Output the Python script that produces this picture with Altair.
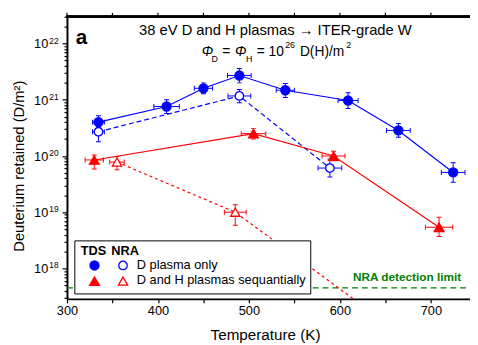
import altair as alt
import pandas as pd

FONT = "Liberation Sans"
BLUE = "#0000ff"
RED = "#ff0000"
GREEN = "#008000"

# ---------------- data ----------------
# TDS, D plasma only (filled circles, solid line)
tds_d_T = [334.6, 409.5, 450.0, 489.5, 540.0, 609.0, 664.3, 724.5]
tds_d_Terr = [6.5, 14.0, 10.0, 13.0, 10.0, 11.0, 13.0, 13.0]
tds_d_val = [4.0e20, 7.6e20, 1.6e21, 2.7e21, 1.48e21, 9.7e20, 2.85e20, 5.1e19]
tds_d_lo = [3.1e20, 5.7e20, 1.28e21, 2.0e21, 1.1e21, 7.0e20, 2.15e20, 3.4e19]
tds_d_hi = [5.2e20, 1.0e21, 2.0e21, 3.6e21, 1.95e21, 1.34e21, 3.8e20, 7.6e19]

# NRA, D plasma only (open circles, dashed line)
nra_d_T = [334.6, 489.5, 589.0]
nra_d_Terr = [6.5, 12.5, 13.0]
nra_d_val = [2.7e20, 1.17e21, 6.1e19]
nra_d_lo = [1.8e20, 8.9e20, 4.25e19]
nra_d_hi = [3.3e20, 1.53e21, 8.8e19]

# TDS, D and H plasmas sequentially (filled triangles, solid line)
tds_dh_T = [330.0, 505.0, 593.0, 709.0]
tds_dh_Terr = [10.0, 13.5, 12.6, 15.0]
tds_dh_val = [8.5e19, 2.5e20, 1.0e20, 5.4e18]
tds_dh_lo = [5.85e19, 2.0e20, 8.2e19, 3.7e18]
tds_dh_hi = [1.04e20, 3.1e20, 1.22e20, 8.1e18]

# NRA, D and H plasmas sequentially (open triangles, dashed line); last point below view
nra_dh_T = [355.0, 485.0, 650.0]
nra_dh_Terr = [8.0, 12.0, 12.0]
nra_dh_val = [7.8e19, 1.0e19, 1.1e17]
nra_dh_lo = [5.7e19, 5.85e18, 0.8e17]
nra_dh_hi = [9.8e19, 1.36e19, 1.4e17]

detection_limit = [4.5e17]

x_ticks = [300, 350, 400, 450, 500, 550, 600, 650, 700]
y_exponents = [18, 19, 20, 21, 22]
y_mantissas = [1, 2, 3, 4, 5, 6, 7, 8, 9]

X_DOMAIN = [300, 743]
Y_DOMAIN = [2.87e17, 3.0e22]
W, H = 410, 287

x_scale = alt.Scale(domain=X_DOMAIN, nice=False, zero=False)
y_scale = alt.Scale(type="log", domain=Y_DOMAIN, nice=False)

y_tick_values = [m * 10.0 ** e for e in range(17, 23) for m in y_mantissas
                 if Y_DOMAIN[0] <= m * 10.0 ** e <= Y_DOMAIN[1]]

x_axis = alt.Axis(
    values=x_ticks, labelExpr="datum.value % 100 == 0 ? datum.label : ''",
    tickSize=4, tickWidth=1.2, tickColor="black", domainWidth=2, domainColor="black",
    labelFontSize=13, labelFont=FONT, labelColor="black", labelPadding=2,
    grid=False, title=None, labelFlush=False,
)
y_axis = alt.Axis(
    values=y_tick_values, labels=False,
    tickSize={"condition": {"test": "abs(log(datum.value)/LN10 - round(log(datum.value)/LN10)) < 0.001",
                            "value": 5}, "value": 3},
    tickWidth=1.2, tickColor="black", domainWidth=2, domainColor="black",
    grid=False, title=None,
)


def frame(T, Terr, v, lo, hi):
    return pd.DataFrame({
        "T": T,
        "Tlo": [t - e for t, e in zip(T, Terr)],
        "Thi": [t + e for t, e in zip(T, Terr)],
        "v": v, "lo": lo, "hi": hi,
    })


def X(field):
    return alt.X(f"{field}:Q", scale=x_scale, axis=x_axis)


def Y(field):
    return alt.Y(f"{field}:Q", scale=y_scale, axis=y_axis)


series = [
    (frame(tds_d_T, tds_d_Terr, tds_d_val, tds_d_lo, tds_d_hi), BLUE, None, "circle", True, 85),
    (frame(nra_d_T, nra_d_Terr, nra_d_val, nra_d_lo, nra_d_hi), BLUE, [5, 3], "circle", False, 75),
    (frame(tds_dh_T, tds_dh_Terr, tds_dh_val, tds_dh_lo, tds_dh_hi), RED, None, "triangle-up", True, 100),
    (frame(nra_dh_T, nra_dh_Terr, nra_dh_val, nra_dh_lo, nra_dh_hi), RED, [3, 3], "triangle-up", False, 90),
]

layers = []

# detection limit
det = pd.DataFrame({"v": detection_limit})
layers.append(
    alt.Chart(det).mark_rule(color=GREEN, strokeWidth=1.3, strokeDash=[6, 4]).encode(
        y=Y("v"), x=alt.value(0), x2=alt.value(W))
)

line_layers, err_layers, pt_layers = [], [], []
for df, c, dash, shape, filled, size in series:
    lkw = dict(color=c, strokeWidth=1.2, clip=True)
    if dash:
        lkw["strokeDash"] = dash
    line_layers.append(alt.Chart(df).mark_line(**lkw).encode(x=X("T"), y=Y("v")))
    base = alt.Chart(df)
    err_layers += [
        base.mark_rule(color=c, strokeWidth=1, clip=True).encode(x=X("Tlo"), x2="Thi:Q", y=Y("v")),
        base.mark_rule(color=c, strokeWidth=1, clip=True).encode(x=X("T"), y=Y("lo"), y2="hi:Q"),
        base.mark_tick(orient="vertical", size=5, thickness=1, color=c, opacity=1, clip=True).encode(x=X("Tlo"), y=Y("v")),
        base.mark_tick(orient="vertical", size=5, thickness=1, color=c, opacity=1, clip=True).encode(x=X("Thi"), y=Y("v")),
        base.mark_tick(orient="horizontal", size=5, thickness=1, color=c, opacity=1, clip=True).encode(x=X("T"), y=Y("lo")),
        base.mark_tick(orient="horizontal", size=5, thickness=1, color=c, opacity=1, clip=True).encode(x=X("T"), y=Y("hi")),
    ]
    pt_layers.append(
        base.mark_point(shape=shape, size=size, filled=True, fill=c if filled else "white",
                        stroke=c, strokeWidth=1.3, opacity=1, clip=True).encode(x=X("T"), y=Y("v"))
    )

layers += line_layers + err_layers + pt_layers

# top frame line and its ticks
top_df = pd.DataFrame({"T": x_ticks})
layers.append(
    alt.Chart(top_df).mark_rule(color="black", strokeWidth=2).encode(
        x=alt.value(-1), x2=alt.value(W), y=alt.value(0))
)
layers.append(
    alt.Chart(top_df).mark_rule(color="black", strokeWidth=1.2).encode(
        x=X("T"), y=alt.value(0), y2=alt.value(-4))
)

# y tick labels "10^n"
ylab = pd.DataFrame({"v": [10.0 ** e for e in y_exponents], "base": ["10"] * len(y_exponents),
                     "exp": [str(e) for e in y_exponents]})
layers.append(
    alt.Chart(ylab).mark_text(font=FONT, fontSize=13, align="right", baseline="alphabetic", dy=5,
                              color="black").encode(y=Y("v"), x=alt.value(-19), text="base:N")
)
layers.append(
    alt.Chart(ylab).mark_text(font=FONT, fontSize=8.5, align="left", baseline="alphabetic", dy=0,
                              color="black").encode(y=Y("v"), x=alt.value(-18), text="exp:N")
)


def txt(s, x, y, size=13, weight="normal", style="normal", align="left", color="black", angle=0,
        baseline="alphabetic"):
    kw = dict(font=FONT, fontSize=size, fontWeight=weight, fontStyle=style, align=align,
              baseline=baseline, color=color)
    if angle:
        kw["angle"] = angle
    return alt.Chart(pd.DataFrame({"t": [s]})).mark_text(**kw).encode(
        text="t:N", x=alt.value(x), y=alt.value(y))


# axis titles
layers.append(txt("Temperature (K)", 202, 329, size=15.5, align="center"))
layers.append(txt("Deuterium retained (D/m²)", -49, 152, size=15, align="center", angle=270,
                  baseline="middle"))

# panel label and header
layers.append(txt("a", 9, 28, size=21, weight="bold"))
layers.append(txt("38 eV D and H plasmas \u2192 ITER-grade W", 212, 19, size=15, align="center"))
header2 = [
    ("\u03a6", 137, 40, 14, "italic"),
    ("D", 147, 46, 9, "normal"),
    ("=", 158, 40, 14, "normal"),
    ("\u03a6", 171, 40, 14, "italic"),
    ("H", 182, 46, 9, "normal"),
    ("= 10", 193, 40, 14, "normal"),
    ("26", 222, 32, 9, "normal"),
    ("D(H)/m", 237, 40, 14, "normal"),
    ("2", 284, 32, 9, "normal"),
]
for s, x, y, size, style in header2:
    layers.append(txt(s, x, y, size=size, style=style))

# NRA detection limit label
layers.append(txt("NRA detection limit", 401, 269, size=12, weight="bold", align="right", color=GREEN))

# legend
layers.append(
    alt.Chart(pd.DataFrame({"a": [0]})).mark_rect(fill="white", stroke="black", strokeWidth=1).encode(
        x=alt.value(8), x2=alt.value(248), y=alt.value(228), y2=alt.value(282))
)
layers.append(txt("TDS", 14, 242, size=13, weight="bold"))
layers.append(txt("NRA", 45, 242, size=13, weight="bold"))
legend_items = [
    ("circle", BLUE, True, 85, 28, 253),
    ("circle", BLUE, False, 75, 57, 253),
    ("triangle-up", RED, True, 100, 28, 269),
    ("triangle-up", RED, False, 90, 57, 269),
]
for shape, c, filled, size, x, y in legend_items:
    layers.append(
        alt.Chart(pd.DataFrame({"a": [0]})).mark_point(
            shape=shape, size=size, filled=True, fill=c if filled else "white", stroke=c,
            strokeWidth=1.3, opacity=1).encode(x=alt.value(x), y=alt.value(y))
    )
layers.append(txt("D plasma only", 71, 257, size=13))
layers.append(txt("D and H plasmas sequantially", 71, 272, size=13))

chart = alt.layer(*layers).properties(
    width=W, height=H,
    padding={"left": 60, "top": 6, "right": 0, "bottom": 44},
    autosize=alt.AutoSizeParams(type="none"),
    background="white",
).configure_view(stroke=None)

chart.save("out.html", embed_options={"renderer": "svg", "actions": False})
